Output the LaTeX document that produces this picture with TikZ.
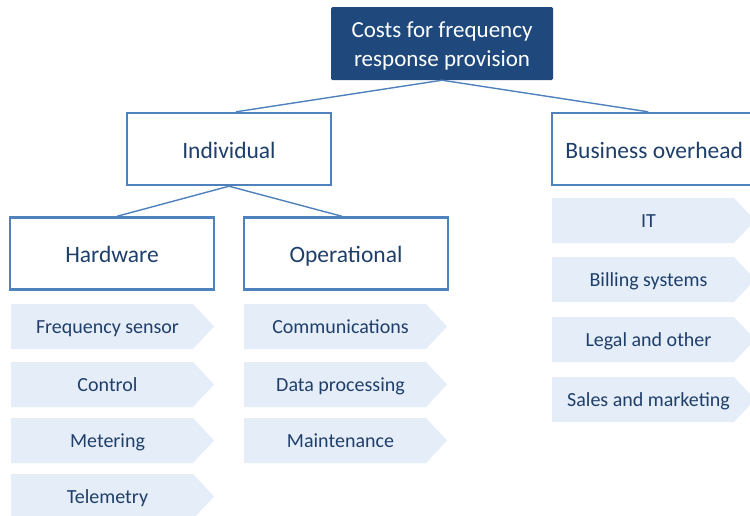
\documentclass[tikz,border=0pt]{standalone}
\usepackage{fontspec}
\setmainfont{Carlito}
\usetikzlibrary{calc}
\definecolor{navy}{HTML}{1F497D}
\definecolor{edgeblue}{HTML}{4F81BD}
\definecolor{paleblue}{HTML}{E5EDF8}
\definecolor{inkblue}{HTML}{1F3F6B}
\tikzset{
  rootbox/.style={fill=navy, rounded corners=1.5pt, minimum width=222pt, minimum height=73pt, inner sep=0pt},
  roottext/.style={text=white, font=\fontsize{23}{29}\selectfont, inner sep=0pt, anchor=base},
  catbox/.style={draw=edgeblue, line width=2.4pt, fill=white, minimum width=204pt,
    minimum height=72pt, text=inkblue, font=\fontsize{23.5}{28}\selectfont, inner sep=0pt,
    text height=18pt, text depth=0pt},
  link/.style={draw=edgeblue, line width=1.4pt},
  chevfill/.style={fill=paleblue},
  chevtext/.style={text=inkblue, font=\fontsize{20}{24}\selectfont, inner sep=0pt,
    text height=14pt, text depth=0pt}
}
% chevron item: name, left x, top y, text
\newcommand\chevitem[4]{%
  \fill[chevfill] (#2,#3) -- ++(182,0) -- ++(21,22.5) -- ++(-21,22.5) -- ++(-182,0) -- cycle;
  \node[chevtext] (#1) at (#2+96.5,#3+22.5) {#4};}
\begin{document}
\begin{tikzpicture}[x=1pt,y=-1pt]
\clip (0,0) rectangle (750,515);
\fill[white] (0,0) rectangle (750,515);

% hierarchy boxes
\node[rootbox] (root) at (442,43.5) {};
\node[roottext] (rootA) at (442,37) {Costs for frequency};
\node[roottext] (rootB) at (442,66) {response provision};
\node[catbox] (ind) at (229,149) {Individual};
\node[catbox, anchor=west] (biz) at (551,149) {Business overhead};
\node[catbox] (hw) at (112,253.5) {Hardware};
\node[catbox] (op) at (346,253.5) {Operational};

% connectors
\draw[link] (root.south) -- ($(ind.north)+(7,0)$);
\draw[link] (root.south) -- ($(biz.north)+(-6,0)$);
\draw[link] (ind.south) -- ($(hw.north)+(5,0)$);
\draw[link] (ind.south) -- ($(op.north)+(-4,0)$);

% hardware items
\chevitem{fs}{11}{304}{Frequency sensor}
\chevitem{ctl}{11}{362}{Control}
\chevitem{met}{11}{418}{Metering}
\chevitem{tel}{11}{474}{Telemetry}

% operational items
\chevitem{com}{244}{304}{Communications}
\chevitem{dat}{244}{362}{Data processing}
\chevitem{mnt}{244}{418}{Maintenance}

% business overhead items
\chevitem{it}{552}{198}{IT}
\chevitem{bil}{552}{257}{Billing systems}
\chevitem{leg}{552}{317}{Legal and other}
\chevitem{sal}{552}{377}{Sales and marketing}
\end{tikzpicture}
\end{document}
